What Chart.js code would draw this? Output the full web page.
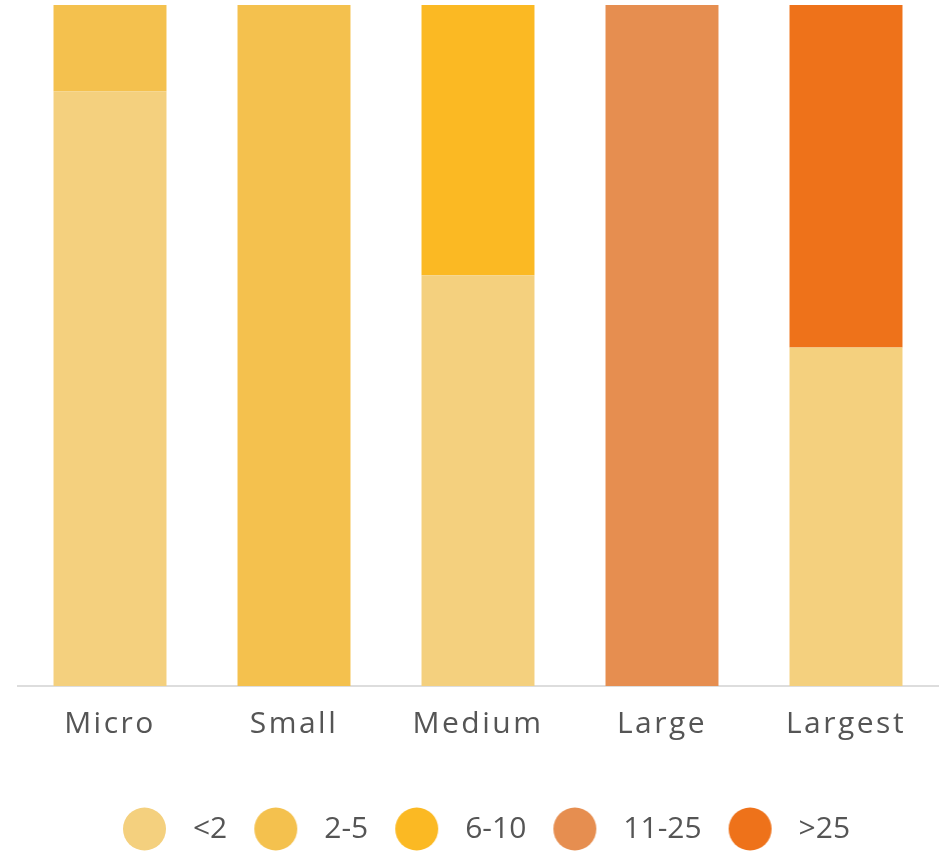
<!DOCTYPE html>
<html>
<head>
<meta charset="utf-8">
<script src="https://cdn.jsdelivr.net/npm/chart.js@4"></script>
<style>
  html, body { margin: 0; padding: 0; background: #fff; }
  #wrap { width: 945px; height: 854px; }
</style>
</head>
<body>
<div id="wrap"><canvas id="myChart"></canvas></div>
<script>
const CHART = document.getElementById("myChart");

// company size groups and share of each revenue band (%)
const sizes = ['Micro', 'Small', 'Medium', 'Large', 'Largest'];
const bands = ['<2', '2-5', '6-10', '11-25', '>25'];
const under2 = [87.3, 0, 60.3, 0, 49.7];
const from2to5 = [12.7, 100, 0, 0, 0];
const from6to10 = [0, 0, 39.7, 0, 0];
const from11to25 = [0, 0, 0, 100, 0];
const over25 = [0, 0, 0, 0, 50.3];
const colors = ['#F4D07E', '#F4C14E', '#FBB923', '#E68E50', '#EE721A'];

const values = [under2, from2to5, from6to10, from11to25, over25];

// round legend markers with a little room on the left
function dot(color) {
  const c = document.createElement('canvas');
  c.width = 72;
  c.height = 44;
  const g = c.getContext('2d');
  g.fillStyle = color;
  g.beginPath();
  g.arc(38.5, 22, 21.5, 0, Math.PI * 2);
  g.fill();
  return c;
}

const datasets = bands.map(function (b, i) {
  return {
    label: b,
    data: values[i],
    backgroundColor: colors[i],
    borderWidth: 0,
    pointStyle: dot(colors[i]),
    categoryPercentage: 1,
    barPercentage: 0.614
  };
});

// wider tracking for the axis labels, plain spacing in the legend
// (context state is reset on resize, so set it again each pass)
const AXIS_SPACING = '2.5px';
const tracking = {
  id: 'tracking',
  afterInit(chart) {
    const lg = chart.legend;
    const fit = lg.fit.bind(lg);
    const draw = lg.draw.bind(lg);
    lg.fit = function () {
      chart.ctx.letterSpacing = '0px';
      fit();
      chart.ctx.letterSpacing = AXIS_SPACING;
    };
    lg.draw = function () {
      chart.ctx.letterSpacing = '0px';
      draw();
      chart.ctx.letterSpacing = AXIS_SPACING;
    };
  },
  beforeUpdate(chart) { chart.ctx.letterSpacing = AXIS_SPACING; },
  beforeDraw(chart) { chart.ctx.letterSpacing = AXIS_SPACING; }
};

Chart.defaults.font.family = "'Open Sans', sans-serif";
Chart.defaults.color = '#555';

let barchart = new Chart(CHART, {
  type: 'bar',
  data: {
    labels: sizes,
    datasets: datasets
  },
  plugins: [tracking],
  options: {
    responsive: true,
    maintainAspectRatio: false,
    animation: false,
    layout: { padding: { top: 5, left: 18, right: 7, bottom: 0 } },
    scales: {
      x: {
        stacked: true,
        grid: { display: false },
        border: { display: true, color: '#DDDDDD', width: 2 },
        ticks: { font: { size: 30 }, padding: 12, color: '#555' },
        afterFit(scale) { scale.height += 50; }
      },
      y: {
        stacked: true,
        display: false,
        min: 0,
        max: 100
      }
    },
    plugins: {
      tooltip: { enabled: false },
      legend: {
        position: 'bottom',
        labels: {
          usePointStyle: true,
          pointStyleWidth: 72,
          boxHeight: 30,
          padding: 10,
          font: { size: 30 },
          color: '#555'
        }
      }
    }
  }
});
</script>
</body>
</html>
